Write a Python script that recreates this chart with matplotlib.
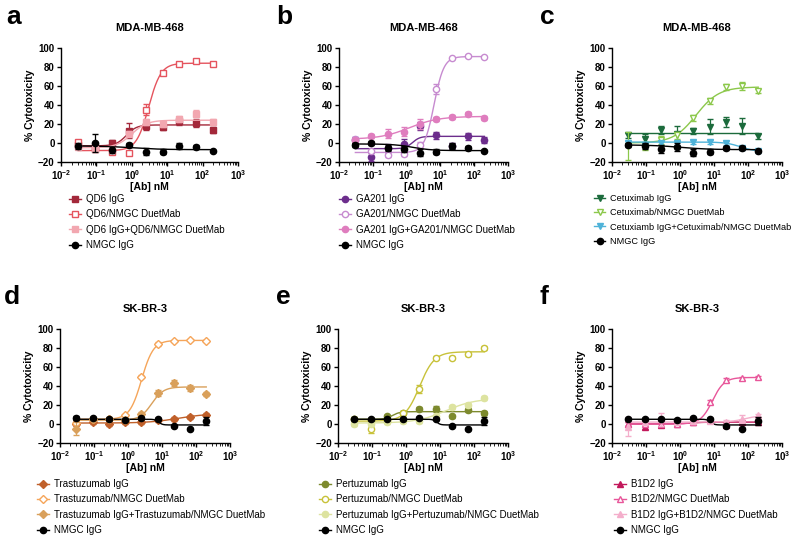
import numpy as np
import matplotlib
matplotlib.use("Agg")
import matplotlib.pyplot as plt
from matplotlib.lines import Line2D
from matplotlib.ticker import LogLocator, NullFormatter, FixedLocator

plt.rcParams["font.family"] = ["Liberation Sans", "DejaVu Sans"]
plt.rcParams["mathtext.fontset"] = "custom"
plt.rcParams["mathtext.rm"] = "Liberation Sans"
plt.rcParams["mathtext.bf"] = "Liberation Sans:bold"

# concentrations (nM), 3-fold dilution series
conc = [0.0305, 0.0914, 0.274, 0.823, 2.47, 7.41, 22.2, 66.7, 200]

# --- panel a : QD6, MDA-MB-468
qd6_igg = [-2, -4, 0, 13, 18, 17, 23, 21, 14]
qd6_igg_err = [3, 3, 3, 8, 4, 3, 4, 4, 3]
qd6_duet = [1, -6, -9, -11, 35, 74, 83, 86, 83]
qd6_duet_err = [2, 2, 2, 2, 6, 2, 2, 2, 2]
qd6_combo = [-4, -6, -7, 10, 22, 20, 25, 31, 22]
qd6_combo_err = [2, 2, 2, 3, 3, 3, 3, 4, 3]
nmgc_a = [-3, 0, -7, -2, -9, -9, -3, -4, -8]
nmgc_a_err = [3, 9, 3, 2, 4, 3, 3, 2, 1]

# --- panel b : GA201, MDA-MB-468
ga_igg = [3, -15, -5, -1, 18, 8, -3, 7, 3]
ga_igg_err = [3, 4, 4, 5, 4, 4, 3, 4, 3]
ga_duet = [4, -8, -13, -12, -2, 57, 89, 92, 91]
ga_duet_err = [2, 2, 2, 2, 3, 5, 1, 1, 1]
ga_combo = [3, 7, 10, 12, 20, 25, 27, 31, 26]
ga_combo_err = [2, 2, 5, 5, 5, 2, 2, 2, 2]
nmgc_b = [-2, 0, -5, -6, -10, -9, -3, -5, -8]
nmgc_b_err = [2, 2, 3, 3, 4, 3, 3, 2, 1]

# --- panel c : Cetuximab, MDA-MB-468
cet_igg = [8, 4, 14, 10, 13, 17, 22, 18, 7]
cet_igg_err = [3, 5, 4, 8, 3, 8, 5, 8, 3]
cet_duet = [-3, -3, 3, 8, 26, 44, 59, 60, 55]
cet_duet_err = [15, 4, 4, 4, 3, 3, 3, 4, 2]
cet_combo = [0, -2, 0, 0, 1, 1, 0, -5, -8]
cet_combo_err = [2, 2, 2, 2, 2, 2, 2, 2, 2]
nmgc_c = [-2, -3, -6, -4, -10, -9, -5, -5, -8]
nmgc_c_err = [2, 3, 4, 4, 4, 3, 2, 2, 1]

# --- panel d : Trastuzumab, SK-BR-3
tra_igg = [0, 2, 0, 2, 2, 4, 5, 7, 10]
tra_igg_err = [2, 2, 2, 2, 2, 2, 2, 2, 2]
tra_duet = [1, 5, 5, 9, 50, 84, 87, 88, 87]
tra_duet_err = [2, 2, 2, 2, 2, 2, 1, 1, 1]
tra_combo = [-5, 5, 5, 4, 11, 33, 43, 38, 32]
tra_combo_err = [7, 2, 2, 2, 2, 3, 3, 3, 2]
nmgc_d = [6, 6, 5, 4, 6, 5, -2, -5, 3]
nmgc_d_err = [2, 1, 1, 1, 1, 1, 1, 1, 4]

# --- panel e : Pertuzumab, SK-BR-3
per_igg = [5, 4, 8, 12, 16, 16, 8, 15, 12]
per_igg_err = [2, 2, 2, 2, 2, 3, 2, 2, 2]
per_duet = [5, -5, 3, 12, 37, 70, 70, 74, 80]
per_duet_err = [2, 4, 2, 2, 4, 2, 2, 2, 2]
per_combo = [0, 0, 2, 3, 3, 8, 18, 20, 27]
per_combo_err = [2, 2, 2, 2, 2, 2, 2, 2, 2]
nmgc_e = [5, 5, 5, 5, 6, 5, -2, -5, 3]
nmgc_e_err = [1, 1, 1, 1, 1, 1, 1, 1, 4]

# --- panel f : B1D2, SK-BR-3
b1_igg = [0, -3, -1, 0, 2, 4, -1, 2, 2]
b1_igg_err = [2, 2, 2, 2, 2, 2, 2, 2, 2]
b1_duet = [0, 0, 0, 0, 2, 23, 46, 48, 49]
b1_duet_err = [2, 2, 2, 2, 2, 2, 2, 2, 2]
b1_combo = [-3, 2, 5, 2, 3, 3, 2, 5, 9]
b1_combo_err = [10, 3, 7, 2, 2, 2, 2, 4, 2]
nmgc_f = [5, 5, 5, 4, 6, 5, -2, -5, 3]
nmgc_f_err = [1, 1, 1, 1, 1, 1, 1, 1, 4]

# 4PL fit parameters (bottom, top, EC50, hill)
fits_a = [(-3, 19, 0.7, 3), (-8, 84, 3.0, 2.5), (-5, 24, 1.0, 2), (-3, -7, 1.0, 1)]
fits_b = [(-6, 7, 1.5, 4), (-10, 91, 6.5, 3), (4, 28, 1.2, 1), (-1, -8, 1.5, 1.5)]
fits_c = [(11, 11, 1, 1), (0, 59, 3, 1.3), (1, -9, 60, 2), (-2, -7, 1, 1)]
fits_d = [(1, 11, 30, 1), (5, 88, 2.5, 2.5), (4, 39, 5, 2.5), (5, -1, 8, 8)]
fits_e = [(5, 13, 0.4, 4), (3, 76, 2.5, 2), (1, 27, 15, 1), (5, -1, 8, 8)]
fits_f = [(0, 2, 2, 2), (0, 49, 9, 2.5), (2, 9, 80, 2), (5, -1, 8, 8)]

panels = [
    dict(letter="a", title="MDA-MB-468", marker="s",
         labels=["QD6 IgG", "QD6/NMGC DuetMab", "QD6 IgG+QD6/NMGC DuetMab", "NMGC IgG"],
         colors=["#A3283A", "#E5545E", "#F2A7B0", "black"],
         data=[qd6_igg, qd6_duet, qd6_combo, nmgc_a],
         err=[qd6_igg_err, qd6_duet_err, qd6_combo_err, nmgc_a_err], fits=fits_a),
    dict(letter="b", title="MDA-MB-468", marker="o",
         labels=["GA201 IgG", "GA201/NMGC DuetMab", "GA201 IgG+GA201/NMGC DuetMab", "NMGC IgG"],
         colors=["#6C2D8C", "#C78BD0", "#DF7DBE", "black"],
         data=[ga_igg, ga_duet, ga_combo, nmgc_b],
         err=[ga_igg_err, ga_duet_err, ga_combo_err, nmgc_b_err], fits=fits_b),
    dict(letter="c", title="MDA-MB-468", marker="v",
         labels=["Cetuximab IgG", "Cetuximab/NMGC DuetMab", "Cetuxiamb IgG+Cetuximab/NMGC DuetMab", "NMGC IgG"],
         colors=["#1C6B3C", "#8CC84B", "#4FB3D9", "black"],
         data=[cet_igg, cet_duet, cet_combo, nmgc_c],
         err=[cet_igg_err, cet_duet_err, cet_combo_err, nmgc_c_err], fits=fits_c),
    dict(letter="d", title="SK-BR-3", marker="D",
         labels=["Trastuzumab IgG", "Trastuzumab/NMGC DuetMab", "Trastuzumab IgG+Trastuzumab/NMGC DuetMab", "NMGC IgG"],
         colors=["#C0602A", "#F5A55A", "#D9A05B", "black"],
         data=[tra_igg, tra_duet, tra_combo, nmgc_d],
         err=[tra_igg_err, tra_duet_err, tra_combo_err, nmgc_d_err], fits=fits_d),
    dict(letter="e", title="SK-BR-3", marker="o",
         labels=["Pertuzumab IgG", "Pertuzumab/NMGC DuetMab", "Pertuzumab IgG+Pertuzumab/NMGC DuetMab", "NMGC IgG"],
         colors=["#7D8A2E", "#C8C23A", "#DDE3A0", "black"],
         data=[per_igg, per_duet, per_combo, nmgc_e],
         err=[per_igg_err, per_duet_err, per_combo_err, nmgc_e_err], fits=fits_e),
    dict(letter="f", title="SK-BR-3", marker="^",
         labels=["B1D2 IgG", "B1D2/NMGC DuetMab", "B1D2 IgG+B1D2/NMGC DuetMab", "NMGC IgG"],
         colors=["#C2185B", "#E8569A", "#F4AECB", "black"],
         data=[b1_igg, b1_duet, b1_combo, nmgc_f],
         err=[b1_igg_err, b1_duet_err, b1_combo_err, nmgc_f_err], fits=fits_f),
]

W, H = 800, 537
fig = plt.figure(figsize=(8, 5.37), dpi=100)

# axes boxes in pixels: (left, top, right, bottom)
boxes = [(61, 48, 238, 162), (339, 48, 508, 162), (612, 48, 782, 162),
         (60, 329, 230, 443), (338, 329, 508, 443), (612, 329, 782, 443)]
letter_pos = [(6, 17), (276, 17), (540, 17), (4, 297), (276, 297), (540, 297)]
legend_pos = [(69, 194), (339, 194), (594, 194), (37, 479), (319, 479), (614, 479)]
legend_size = [7, 7, 6.6, 7, 7, 7]

xs = np.logspace(np.log10(conc[0]), np.log10(conc[-1]), 300)


def logistic(x, bottom, top, ec50, hill):
    return bottom + (top - bottom) / (1 + (ec50 / x) ** hill)


for p, box, lp, gp, fs in zip(panels, boxes, letter_pos, legend_pos, legend_size):
    l, t, r, b = box
    ax = fig.add_axes([l / W, 1 - b / H, (r - l) / W, (b - t) / H])
    handles = []
    for i in range(4):
        c = p["colors"][i]
        m = "o" if i == 3 else p["marker"]
        face = "white" if i == 1 else c
        ax.plot(xs, logistic(xs, *p["fits"][i]), color=c, lw=1, zorder=2 + i)
        ax.errorbar(conc, p["data"][i], yerr=p["err"][i], fmt=m, color=c,
                    mfc=face, mec=c, ms=4.5, mew=1, elinewidth=0.9,
                    capsize=2, capthick=0.9, zorder=3 + i)
        handles.append(Line2D([], [], color=c, lw=1, marker=m, mfc=face,
                              mec=c, ms=4.5, mew=1))

    ax.set_xscale("log")
    ax.set_xlim(1e-2, 1e3)
    ax.set_ylim(-20, 100)
    ax.set_yticks(range(-20, 101, 20))
    ax.xaxis.set_major_locator(FixedLocator([1e-2, 1e-1, 1, 10, 100, 1000]))
    ax.set_xticklabels([r"$\mathbf{10^{-2}}$", r"$\mathbf{10^{-1}}$", r"$\mathbf{10^{0}}$",
                        r"$\mathbf{10^{1}}$", r"$\mathbf{10^{2}}$", r"$\mathbf{10^{3}}$"])
    ax.xaxis.set_minor_locator(LogLocator(base=10, subs=np.arange(2, 10)))
    ax.xaxis.set_minor_formatter(NullFormatter())
    for s in ["top", "right"]:
        ax.spines[s].set_visible(False)
    for s in ["left", "bottom"]:
        ax.spines[s].set_linewidth(1)
    ax.tick_params(axis="both", which="major", labelsize=7, length=3, width=1, pad=1.5)
    ax.tick_params(axis="x", which="minor", length=2, width=0.6)
    for tl in ax.get_yticklabels():
        tl.set_fontweight("bold")
    ax.set_ylabel("% Cytotoxicity", fontsize=7.5, fontweight="bold", labelpad=2)
    ax.set_xlabel("[Ab] nM", fontsize=7.5, fontweight="bold", labelpad=0)
    ax.set_title(p["title"], fontsize=8, fontweight="bold", pad=12)

    fig.text(lp[0] / W, 1 - lp[1] / H, p["letter"], fontsize=19,
             fontweight="bold", va="center", ha="left")
    fig.legend(handles, p["labels"], loc="upper left",
               bbox_to_anchor=(gp[0] / W, 1 - gp[1] / H), frameon=False,
               fontsize=fs, handlelength=1.2, handletextpad=0.5,
               labelspacing=0.55 * 7 / fs, borderpad=0, borderaxespad=0)

fig.savefig("out.png", dpi=100)
